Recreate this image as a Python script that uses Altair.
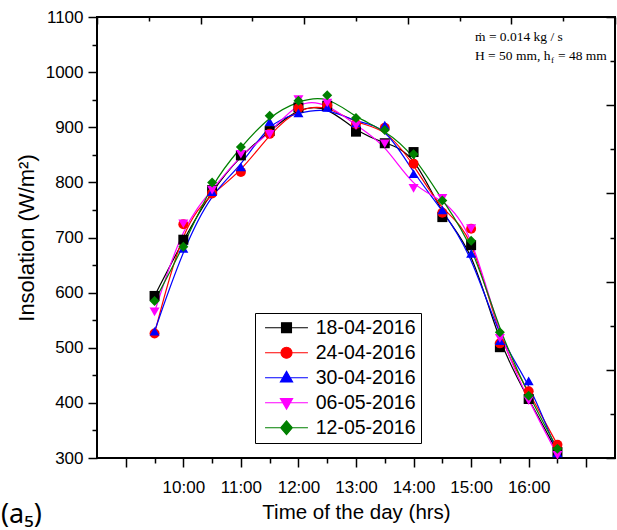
import altair as alt
import pandas as pd

# ---------------- data ----------------
times = [9.5, 10.0, 10.5, 11.0, 11.5, 12.0, 12.5, 13.0, 13.5, 14.0, 14.5, 15.0, 15.5, 16.0, 16.5]
series_names = ["18-04-2016", "24-04-2016", "30-04-2016", "06-05-2016", "12-05-2016"]
ins_18_04 = [594, 696, 786, 849, 893, 936, 939, 892, 871, 855, 737, 686, 501, 407, 311]
ins_24_04 = [526, 724, 780, 819, 888, 935, 940, 906, 899, 834, 745, 716, 508, 421, 324]
ins_30_04 = [530, 680, 783, 828, 910, 926, 936, 908, 904, 816, 750, 671, 513, 440, 309]
ins_06_05 = [565, 725, 786, 851, 887, 950, 944, 903, 870, 789, 771, 716, 517, 404, 305]
ins_12_05 = [585, 683, 800, 864, 921, 948, 958, 917, 895, 851, 767, 694, 528, 413, 317]
all_series = [ins_18_04, ins_24_04, ins_30_04, ins_06_05, ins_12_05]

series_colors = ["#000000", "#ff0000", "#0000ff", "#ff00ff", "#008000"]
series_shapes = ["square", "circle", "triangle-up", "triangle-down", "diamond"]
legend_symbols = [
    "M-3.9,0H3.9M-0.9,-0.9H0.9V0.9H-0.9Z",
    "M-3.9,0H3.9M1,0A1,1,0,1,1,-1,0A1,1,0,1,1,1,0Z",
    "M-3.9,0H3.9M0,-1.15L1.1,0.75L-1.1,0.75Z",
    "M-3.9,0H3.9M0,1.15L1.1,-0.75L-1.1,-0.75Z",
    "M-3.9,0H3.9M0,-1.25L1.05,0L0,1.25L-1.05,0Z",
]

x_ticks = [9.0, 9.5, 10.0, 10.5, 11.0, 11.5, 12.0, 12.5, 13.0, 13.5, 14.0, 14.5, 15.0, 15.5, 16.0, 16.5, 17.0]
y_ticks = [300, 350, 400, 450, 500, 550, 600, 650, 700, 750, 800, 850, 900, 950, 1000, 1050, 1100]
frame_ticks = [0, 1, 2, 3, 4, 5, 6, 7, 8, 9, 10]

records = []
for name, vals in zip(series_names, all_series):
    for t, v in zip(times, vals):
        records.append({"time": t, "insolation": v, "series": name})
df = pd.DataFrame(records)

W, H = 518, 441

x_enc = alt.X(
    "time:Q",
    scale=alt.Scale(domain=[8.5, 17.5], nice=False, zero=False),
    axis=alt.Axis(
        orient="bottom", values=x_ticks, grid=False, domain=False,
        labelExpr="(datum.value % 1 === 0 && datum.value >= 10 && datum.value <= 16) ? (datum.value + ':00') : ''",
        labelOverlap=False, labelFlush=False,
        labelFontSize=17, labelPadding=12,
        tickSize={"condition": {"test": "datum.value % 1 === 0", "value": 9}, "value": 5},
        tickWidth=1.5,
        title="Time of the day (hrs)", titleFontSize=20.5, titlePadding=7,
    ),
)
y_enc = alt.Y(
    "insolation:Q",
    scale=alt.Scale(domain=[300, 1100], nice=False, zero=False),
    axis=alt.Axis(
        orient="left", values=y_ticks, grid=False, domain=False,
        labelExpr="datum.value % 100 === 0 ? ('' + datum.value) : ''",
        labelOverlap=False, labelFlush=False,
        labelFontSize=17, labelPadding=5,
        tickSize={"condition": {"test": "datum.value % 100 === 0", "value": 9}, "value": 5},
        tickWidth=1.5,
        title="Insolation (W/m²)", titleFontSize=22, titlePadding=7,
    ),
)

layers = []
for name, color in zip(series_names, series_colors):
    layers.append(
        alt.Chart(df).transform_filter(alt.datum.series == name)
        .mark_line(color=color, strokeWidth=1.2, interpolate="basis")
        .encode(x=x_enc, y=y_enc)
    )
for name, color, shape in zip(series_names, series_colors, series_shapes):
    layers.append(
        alt.Chart(df).transform_filter(alt.datum.series == name)
        .mark_point(shape=shape, filled=True, color=color, size=100, opacity=1)
        .encode(x=x_enc, y=y_enc)
    )

leg = alt.Legend(
    orient="none", legendX=158, legendY=296, title=None,
    labelFont="Liberation Sans", labelFontSize=19.5, labelColor="black",
    symbolSize=121, symbolStrokeWidth=1.2, symbolOffset=16.75, labelOffset=19.5,
    rowPadding=4, padding=5, strokeColor="black", fillColor="white",
)
legend_layer = (
    alt.Chart(df).transform_filter("datum.insolation < 0")
    .mark_point(filled=True, strokeWidth=1.2, size=121, opacity=1)
    .encode(
        x=x_enc, y=y_enc,
        shape=alt.Shape("series:N", scale=alt.Scale(domain=series_names, range=legend_symbols), legend=leg),
        fill=alt.Fill("series:N", scale=alt.Scale(domain=series_names, range=series_colors), legend=leg),
        stroke=alt.Stroke("series:N", scale=alt.Scale(domain=series_names, range=series_colors), legend=leg),
    )
)
layers.append(legend_layer)

ann = pd.DataFrame({"k": [0]})
serif = "Liberation Serif, DejaVu Serif, serif"
layers.append(alt.Chart(ann).mark_text(text="ṁ = 0.014 kg / s", font=serif, fontSize=13.5, align="left",
                                       baseline="alphabetic", color="black").encode(x=alt.value(378), y=alt.value(24)))
layers.append(alt.Chart(ann).mark_text(text="H = 50 mm, h", font=serif, fontSize=13.5, align="left",
                                       baseline="alphabetic", color="black").encode(x=alt.value(378), y=alt.value(43)))
layers.append(alt.Chart(ann).mark_text(text="f", font=serif, fontSize=9, align="left",
                                       baseline="alphabetic", color="black").encode(x=alt.value(454), y=alt.value(46)))
layers.append(alt.Chart(ann).mark_text(text="= 48 mm", font=serif, fontSize=13.5, align="left",
                                       baseline="alphabetic", color="black").encode(x=alt.value(461), y=alt.value(43)))
layers.append(alt.Chart(ann).mark_text(text="(a₅)", font="Noto Sans", fontSize=27, align="left",
                                       baseline="alphabetic", color="black").encode(x=alt.value(-96), y=alt.value(506)))

main = alt.layer(*layers)

frame_df = pd.DataFrame({"fx": frame_ticks, "fy": frame_ticks})
decor = alt.Chart(frame_df).mark_point(opacity=0).encode(
    x=alt.X("fx:Q", scale=alt.Scale(domain=[0, 10], nice=False, zero=False),
            axis=alt.Axis(orient="bottom", offset=-H, values=frame_ticks, labels=False, domain=False,
                          grid=False, title=None, tickWidth=1.5,
                          tickSize={"condition": {"test": "datum.value % 2 === 0", "value": 7}, "value": 4})),
    y=alt.Y("fy:Q", scale=alt.Scale(domain=[0, 10], nice=False, zero=False),
            axis=alt.Axis(orient="left", offset=-W, values=frame_ticks, labels=False, domain=False,
                          grid=False, title=None, tickWidth=1.5,
                          tickSize={"condition": {"test": "datum.value % 2 === 0", "value": 9}, "value": 5})),
)

chart = (
    alt.layer(main, decor)
    .resolve_scale(x="independent", y="independent")
    .properties(
        width=W, height=H,
        padding={"left": 97, "top": 17, "right": 2, "bottom": 72},
        autosize=alt.AutoSizeParams(type="none"),
        background="white",
    )
    .configure_view(stroke="black", strokeWidth=2)
    .configure_axis(labelFont="Liberation Sans", titleFont="Liberation Sans", labelColor="black",
                    titleColor="black", tickColor="black", titleFontWeight="normal")
)

chart.save("out.html", embed_options={"renderer": "svg", "actions": False})
